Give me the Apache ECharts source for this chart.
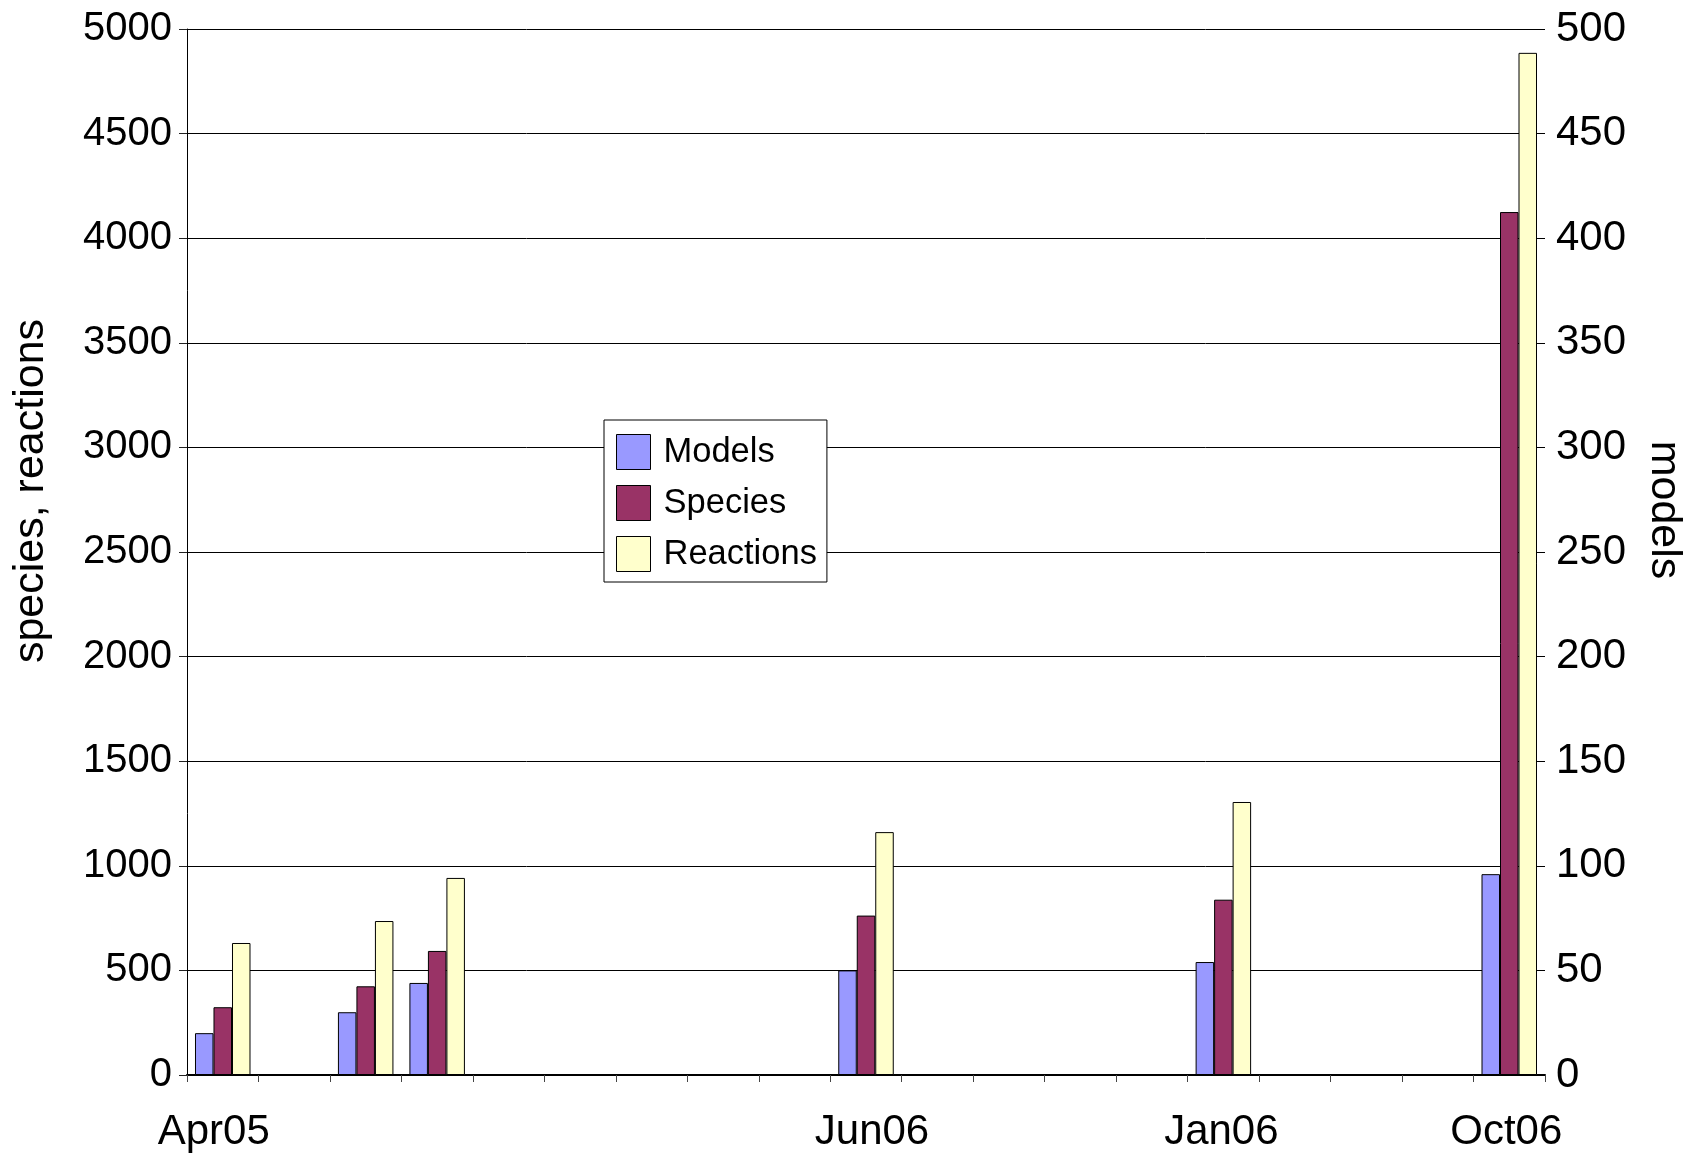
<!DOCTYPE html>
<html>
<head>
<meta charset="utf-8">
<script src="https://cdn.jsdelivr.net/npm/echarts@6/dist/echarts.min.js"></script>
<style>
  html, body { margin: 0; padding: 0; background: #fff; }
  #chart { width: 1690px; height: 1153px; }
</style>
</head>
<body>
<div id="chart"></div>
<script>
// Release slots along the time axis; only some carry a label
const categories = ['Apr05', '', '', '', '', '', '', '', '', 'Jun06', '', '', '', '', 'Jan06', '', '', '', 'Oct06'];

// Number of models (right axis)
const models =    [20, null, 30, 44, null, null, null, null, null, 50, null, null, null, null, 54, null, null, null, 96];
// Species and reactions (left axis)
const species =   [324, null, 424, 593, null, null, null, null, null, 762, null, null, null, null, 838, null, null, null, 4125];
const reactions = [631, null, 736, 942, null, null, null, null, null, 1161, null, null, null, null, 1305, null, null, null, 4886];

const leftTicks = [0, 500, 1000, 1500, 2000, 2500, 3000, 3500, 4000, 4500, 5000];
const rightTicks = [0, 50, 100, 150, 200, 250, 300, 350, 400, 450, 500];

// small horizontal nudges for the sparse date labels
const labelShift = { 'Apr05': -9, 'Jun06': 6, 'Jan06': -2, 'Oct06': -3 };

const FONT = 'Liberation Sans, Arial, sans-serif';
const chart = echarts.init(document.getElementById('chart'), null, { renderer: 'canvas' });

const rich = {};
Object.keys(labelShift).forEach(function (k) {
  const s = labelShift[k];
  rich[k] = {
    fontSize: 42, fontFamily: FONT, color: '#000',
    padding: s < 0 ? [0, -2 * s, 0, 0] : [0, 0, 0, 2 * s]
  };
});

const barBorder = { borderColor: '#000', borderWidth: 1 };

chart.setOption({
  backgroundColor: '#fff',
  animation: false,
  textStyle: { fontFamily: FONT },
  grid: { left: 187, right: 145, top: 29, bottom: 78, containLabel: false, outerBoundsMode: 'none' },
  legend: {
    orient: 'vertical',
    left: 604, top: 420,
    padding: [14, 10, 10, 12],
    itemGap: 15,
    itemWidth: 34, itemHeight: 35,
    icon: 'rect',
    backgroundColor: '#fff',
    borderColor: '#000', borderWidth: 1,
    borderRadius: 0,
    itemStyle: { borderColor: '#000', borderWidth: 1 },
    textStyle: { fontSize: 34.5, color: '#000', fontFamily: FONT, padding: [0, 0, 0, 8] },
    data: ['Models', 'Species', 'Reactions']
  },
  xAxis: {
    type: 'category',
    data: categories,
    axisLine: { show: true, lineStyle: { color: '#000', width: 2 } },
    axisTick: { show: true, interval: 0, length: 7, lineStyle: { color: '#444', width: 1 } },
    axisLabel: {
      interval: 0, margin: 36, color: '#000', fontSize: 42, fontFamily: FONT,
      formatter: function (v) { return v ? '{' + v + '|' + v + '}' : ''; },
      rich: rich
    },
    splitLine: { show: false }
  },
  yAxis: [
    {
      type: 'value', min: leftTicks[0], max: leftTicks[leftTicks.length - 1], interval: 500,
      position: 'left',
      axisLine: { show: true, lineStyle: { color: '#000', width: 1 } },
      axisTick: { show: true, length: 8, lineStyle: { color: '#222' } },
      axisLabel: { margin: 15, color: '#000', fontSize: 40, fontFamily: FONT,
        formatter: function (v) { return String(v); } },
      splitLine: { show: true, lineStyle: { color: '#000', width: 1 } }
    },
    {
      type: 'value', min: rightTicks[0], max: rightTicks[rightTicks.length - 1], interval: 50,
      position: 'right',
      axisLine: { show: false },
      axisTick: { show: false },
      axisLabel: { margin: 11, color: '#000', fontSize: 42, fontFamily: FONT,
        formatter: function (v) { return String(v); } },
      splitLine: { show: false }
    }
  ],
  graphic: [
    {
      type: 'text', x: 31, y: 491, rotation: Math.PI / 2,
      style: { text: 'species, reactions', fontSize: 43, fontFamily: FONT, fill: '#000', align: 'center', verticalAlign: 'middle' }
    },
    {
      type: 'text', x: 1664, y: 510, rotation: -Math.PI / 2,
      style: { text: 'models', fontSize: 43, fontFamily: FONT, fill: '#000', align: 'center', verticalAlign: 'middle' }
    }
  ],
  series: [
    { name: 'Models', type: 'bar', yAxisIndex: 1, data: models, barWidth: 18.5, barGap: '0%',
      itemStyle: Object.assign({ color: '#9999FF' }, barBorder) },
    { name: 'Species', type: 'bar', yAxisIndex: 0, data: species, barWidth: 18.5, barGap: '0%',
      itemStyle: Object.assign({ color: '#993366' }, barBorder) },
    { name: 'Reactions', type: 'bar', yAxisIndex: 0, data: reactions, barWidth: 18.5, barGap: '0%',
      itemStyle: Object.assign({ color: '#FFFFCC' }, barBorder) }
  ]
});
</script>
</body>
</html>
